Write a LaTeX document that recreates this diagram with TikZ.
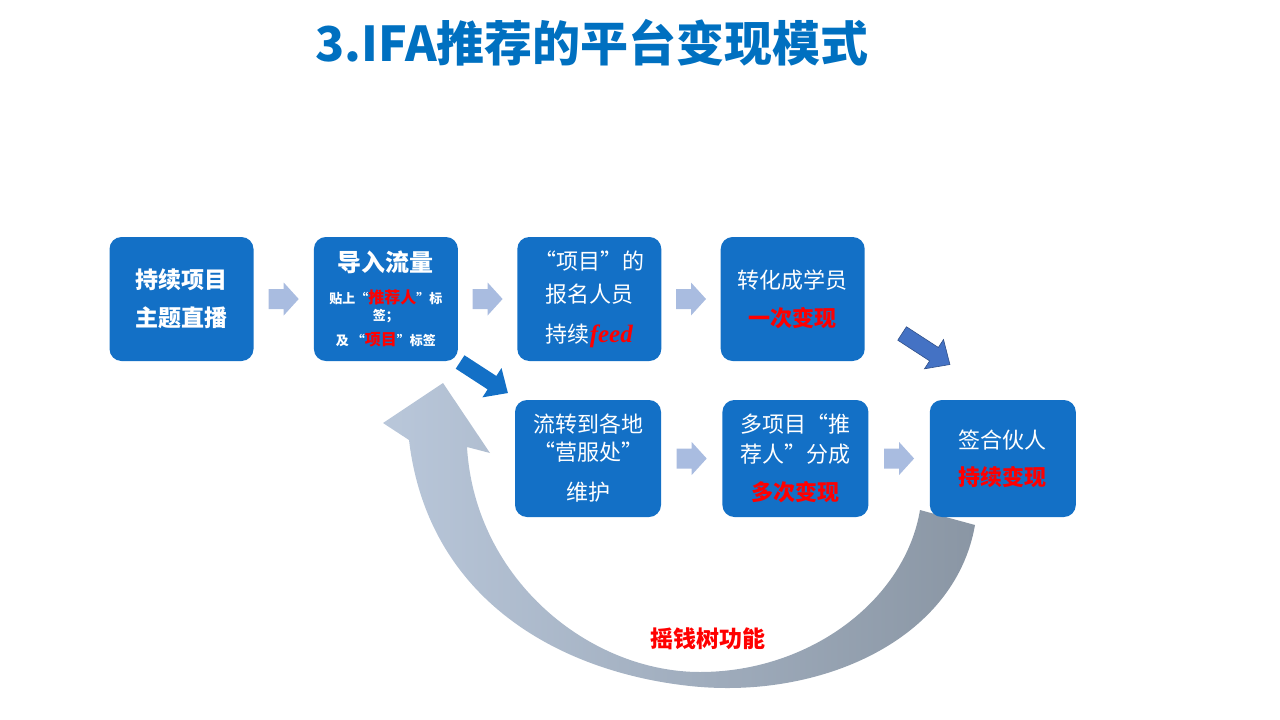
\documentclass[tikz,border=0pt]{standalone}
\usepackage{fontspec}
\setmainfont{Noto Sans CJK SC}
\newfontfamily\feedfont{Liberation Serif}
\usetikzlibrary{positioning,calc}
\definecolor{boxblue}{HTML}{1370C6}
\definecolor{titleblue}{HTML}{0070C0}
\definecolor{lightarr}{HTML}{A9BCE0}
\definecolor{darkarr}{HTML}{4472C4}
\definecolor{curvelight}{HTML}{B9C7DA}
\definecolor{curvedark}{HTML}{8A96A4}
\newcommand{\redtxt}[1]{{\color{red}\bfseries #1}}
\tikzset{
  box/.style={fill=boxblue, rounded corners=12pt, text=white, align=center,
    minimum width=144pt, minimum height=124pt, inner sep=0pt,
    font=\fontsize{22}{24}\selectfont},
  lowbox/.style={box, minimum width=146pt, minimum height=117pt},
  flowarr/.pic={
    \path[pic actions] (-15,-10) -- (0,-10) -- (0,-16.5) -- (15,0)
      -- (0,16.5) -- (0,10) -- (-15,10) -- cycle;},
  bendarr/.pic={
    \path[pic actions] (-28.5,-8) -- (9.5,-8) -- (9.5,-17.5) -- (28.5,0)
      -- (9.5,17.5) -- (9.5,8) -- (-28.5,8) -- cycle;}
}
\begin{document}
\begin{tikzpicture}[x=1pt,y=-1pt]
  \useasboundingbox (0,0) rectangle (1280,720);
  \node[text=titleblue, font=\fontsize{48}{48}\selectfont\bfseries] (title)
    at (592,43) {3.IFA推荐的平台变现模式};

  \shade[left color=curvelight, right color=curvedark]
    (975,525) .. controls (955,640) and (820,700) .. (690,686)
    .. controls (560,672) and (428,600) .. (409,440)
    -- (383,423) -- (443,383) -- (490,453) -- (467,447)
    .. controls (475,580) and (590,672) .. (700,672)
    .. controls (810,672) and (905,600) .. (920,510) -- cycle;

  \node[box, font=\fontsize{23}{24}\selectfont\bfseries] (live) at (181.5,299)
    {持续项目\\[14pt]主题直播};
  \node[box, right=60pt of live] (traffic)
    {\fontsize{24}{24}\selectfont\bfseries 导入流量\\[8pt]
     \fontsize{13}{15}\selectfont\bfseries 贴上“\redtxt{\fontsize{16}{15}\selectfont 推荐人}”标\\[-7pt]
     \fontsize{13}{15}\selectfont\bfseries 签；\\[1pt]
     \fontsize{13}{15}\selectfont\bfseries 及\ “\redtxt{\fontsize{16}{15}\selectfont 项目}”标签};
  \node[box, right=59pt of traffic] (signup)
    {“项目”的\\[9pt]报名人员\\[16pt]持续{\feedfont\fontsize{25}{24}\selectfont\bfseries\itshape\color{red}feed}};
  \node[box, right=59pt of signup] (student)
    {转化成学员\\[14pt]\redtxt{一次变现}};

  \node[lowbox] (hub) at (588,458.5)
    {流转到各地\\[4pt]“营服处”\\[16pt]维护};
  \node[lowbox, right=61pt of hub] (multi)
    {多项目“推\\[6pt]荐人”分成\\[14pt]\redtxt{多次变现}};
  \node[lowbox, right=61pt of multi] (partner)
    {签合伙人\\[13pt]\redtxt{持续变现}};

  \pic[fill=lightarr] at ($(live.east)!.5!(traffic.west)$) {flowarr};
  \pic[fill=lightarr] at ($(traffic.east)!.5!(signup.west)$) {flowarr};
  \pic[fill=lightarr] at ($(signup.east)!.5!(student.west)$) {flowarr};
  \pic[fill=lightarr] at ($(hub.east)!.5!(multi.west)$) {flowarr};
  \pic[fill=lightarr] at ($(multi.east)!.5!(partner.west)$) {flowarr};

  \pic[rotate=-33, fill=boxblue] at (484,377.5) {bendarr};
  \pic[rotate=-33, fill=darkarr, draw=darkarr!70!black, line width=0.6pt]
    at (926,349) {bendarr};

  \node[text=red, font=\fontsize{23}{24}\selectfont\bfseries] (tree)
    at (708,639) {摇钱树功能};
\end{tikzpicture}
\end{document}
